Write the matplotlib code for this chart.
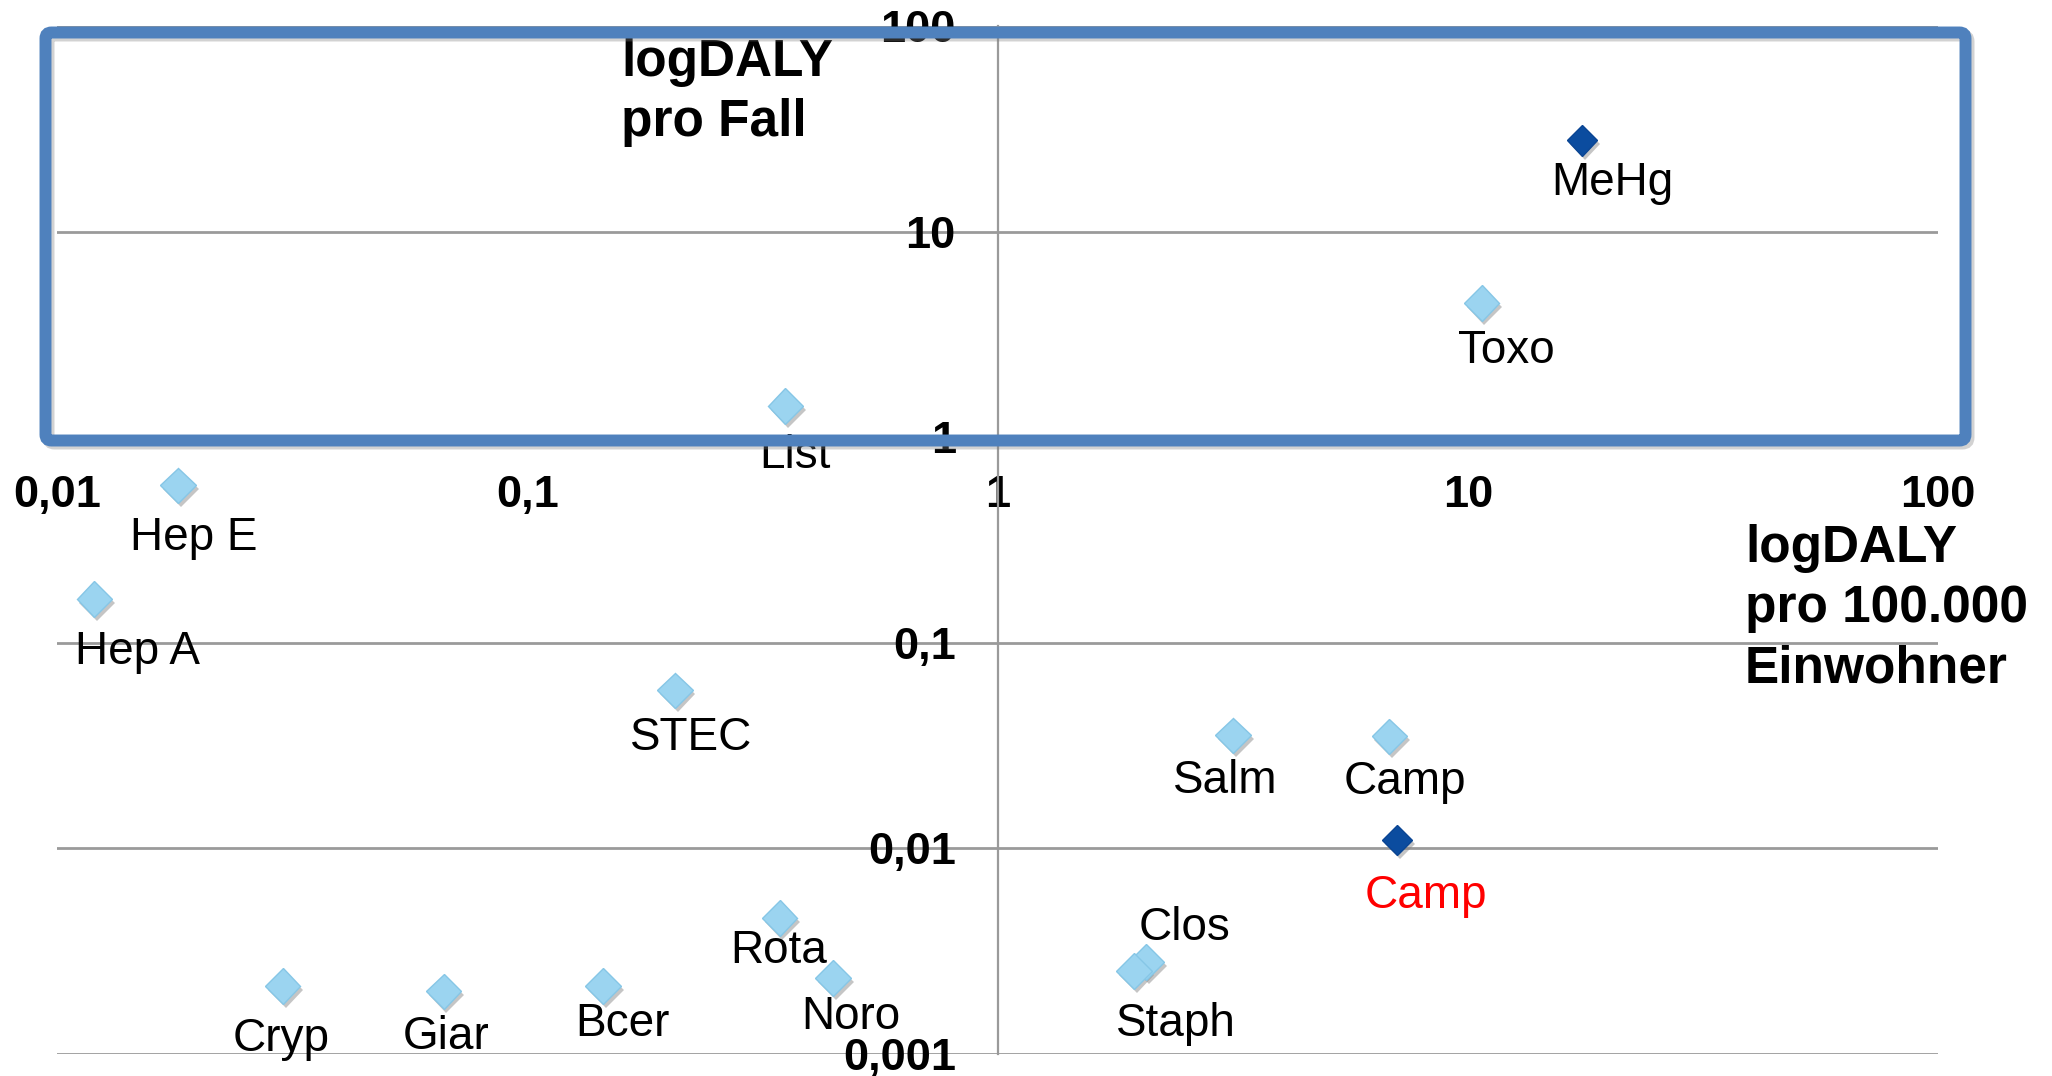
import numpy as np
import matplotlib
matplotlib.use('Agg')
import matplotlib.pyplot as plt
from matplotlib.patches import FancyBboxPatch
from matplotlib.transforms import IdentityTransform
import matplotlib.patheffects as pe

plt.rcParams['font.family'] = ['Liberation Sans', 'DejaVu Sans']

# ---------------- data ----------------
names = ['MeHg', 'Toxo', 'List', 'Hep E', 'Hep A', 'STEC', 'Salm', 'Camp',
         'Camp', 'Rota', 'Clos', 'Staph', 'Noro', 'Cryp', 'Giar', 'Bcer']
daly_per_100k = [17.5, 10.7, 0.354, 0.0181, 0.0120, 0.206, 3.17, 6.81,
                 7.08, 0.344, 2.07, 1.95, 0.447, 0.0302, 0.0664, 0.145]
daly_per_case = [27.8, 4.50, 1.42, 0.584, 0.163, 0.0588, 0.0355, 0.0351,
                 0.0110, 0.00458, 0.0028, 0.00253, 0.00234, 0.00214, 0.00202, 0.00214]
dark_marker = [True, False, False, False, False, False, False, False,
               True, False, False, False, False, False, False, False]
label_colors = ['black'] * 8 + ['#FF0000'] + ['black'] * 7

x_ticks = [0.01, 0.1, 1, 10, 100]
x_tick_labels = ['0,01', '0,1', '1', '10', '100']
y_ticks = [0.001, 0.01, 0.1, 1, 10, 100]
y_tick_labels = ['0,001', '0,01', '0,1', '1', '10', '100']

x_title = 'logDALY\npro 100.000\nEinwohner'
y_title = 'logDALY\npro Fall'

# label placement (pixel offsets of label centre from marker, +y = down)
label_offsets = [(30, 43), (25, 48), (10, 50), (16, 53), (43, 53), (16, 48),
                 (-8, 46), (16, 46), (29, 56), (-1, 33), (38, -34), (42, 53),
                 (18, 39), (-2, 53), (3, 46), (19, 38)]

# ---------------- figure ----------------
W, H = 2052, 1076
fig = plt.figure(figsize=(W / 100, H / 100), dpi=100)
fig.patch.set_facecolor('white')
ax = fig.add_axes([57 / W, 1 - 1054 / H, (1938 - 57) / W, (1054 - 26) / H])
ax.set_xscale('log')
ax.set_yscale('log')
ax.set_xlim(0.01, 100)
ax.set_ylim(0.001, 100)
ax.patch.set_alpha(0)

for s in ['top', 'right']:
    ax.spines[s].set_visible(False)
ax.spines['left'].set_position(('data', 1))
ax.spines['bottom'].set_position(('data', 1))
for s in ['left', 'bottom']:
    ax.spines[s].set_color('#9a9a9a')
    ax.spines[s].set_linewidth(1.6)

ax.set_xticks(x_ticks, labels=x_tick_labels)
ax.set_yticks(y_ticks, labels=y_tick_labels)
ax.minorticks_off()
ax.tick_params(axis='x', direction='out', length=5, width=1.0, color='#808080',
               pad=22, labelsize=32.5)
ax.tick_params(axis='y', length=0, pad=30, labelsize=32.5)
for lbl in ax.get_xticklabels() + ax.get_yticklabels():
    lbl.set_fontweight('bold')

ax.yaxis.grid(True, color='#9a9a9a', linewidth=2.0)
ax.xaxis.grid(False)
ax.set_axisbelow(True)

shadow = [pe.SimplePatchShadow(offset=(2, -3), shadow_rgbFace='#808080', alpha=0.45),
          pe.Normal()]

xs = np.array(daly_per_100k)
ys = np.array(daly_per_case)
dm = np.array(dark_marker)

ax.plot(xs[~dm], ys[~dm], linestyle='none', marker='D', markersize=18,
        markerfacecolor='#9BD4F0', markeredgecolor='#86C6E6', markeredgewidth=1.0,
        path_effects=shadow, zorder=5)
ax.plot(xs[dm], ys[dm], linestyle='none', marker='D', markersize=15.5,
        markerfacecolor='#0B4C9F', markeredgecolor='#0A4593', markeredgewidth=1.0,
        path_effects=shadow, zorder=5)

for name, x, y, (dx, dy), c in zip(names, daly_per_100k, daly_per_case,
                                   label_offsets, label_colors):
    ax.annotate(name, (x, y), xytext=(dx, -dy), textcoords='offset pixels',
                ha='center', va='center', fontsize=33, color=c, zorder=6)

# axis titles
fig.text(621 / W, 1 - 38 / H, y_title, ha='left', va='top', fontsize=37,
         fontweight='bold', linespacing=1.3)
fig.text(1745 / W, 1 - 524 / H, x_title, ha='left', va='top', fontsize=37,
         fontweight='bold', linespacing=1.3)

# highlighted frame
bx0, bx1, by0, by1 = 45.5, 1965.5, 32.5, 440.5
shadow_box = FancyBboxPatch((bx0 + 3, H - by1 - 3), bx1 - bx0, by1 - by0,
                            boxstyle='round,pad=0,rounding_size=6',
                            transform=IdentityTransform(), fill=False,
                            ec='#7f7f7f', lw=8.6, alpha=0.35, zorder=9)
box = FancyBboxPatch((bx0, H - by1), bx1 - bx0, by1 - by0,
                     boxstyle='round,pad=0,rounding_size=6',
                     transform=IdentityTransform(), fill=False,
                     ec='#4F81BD', lw=8.6, zorder=10)
fig.add_artist(shadow_box)
fig.add_artist(box)

fig.savefig('out.png', dpi=100, facecolor='white')
